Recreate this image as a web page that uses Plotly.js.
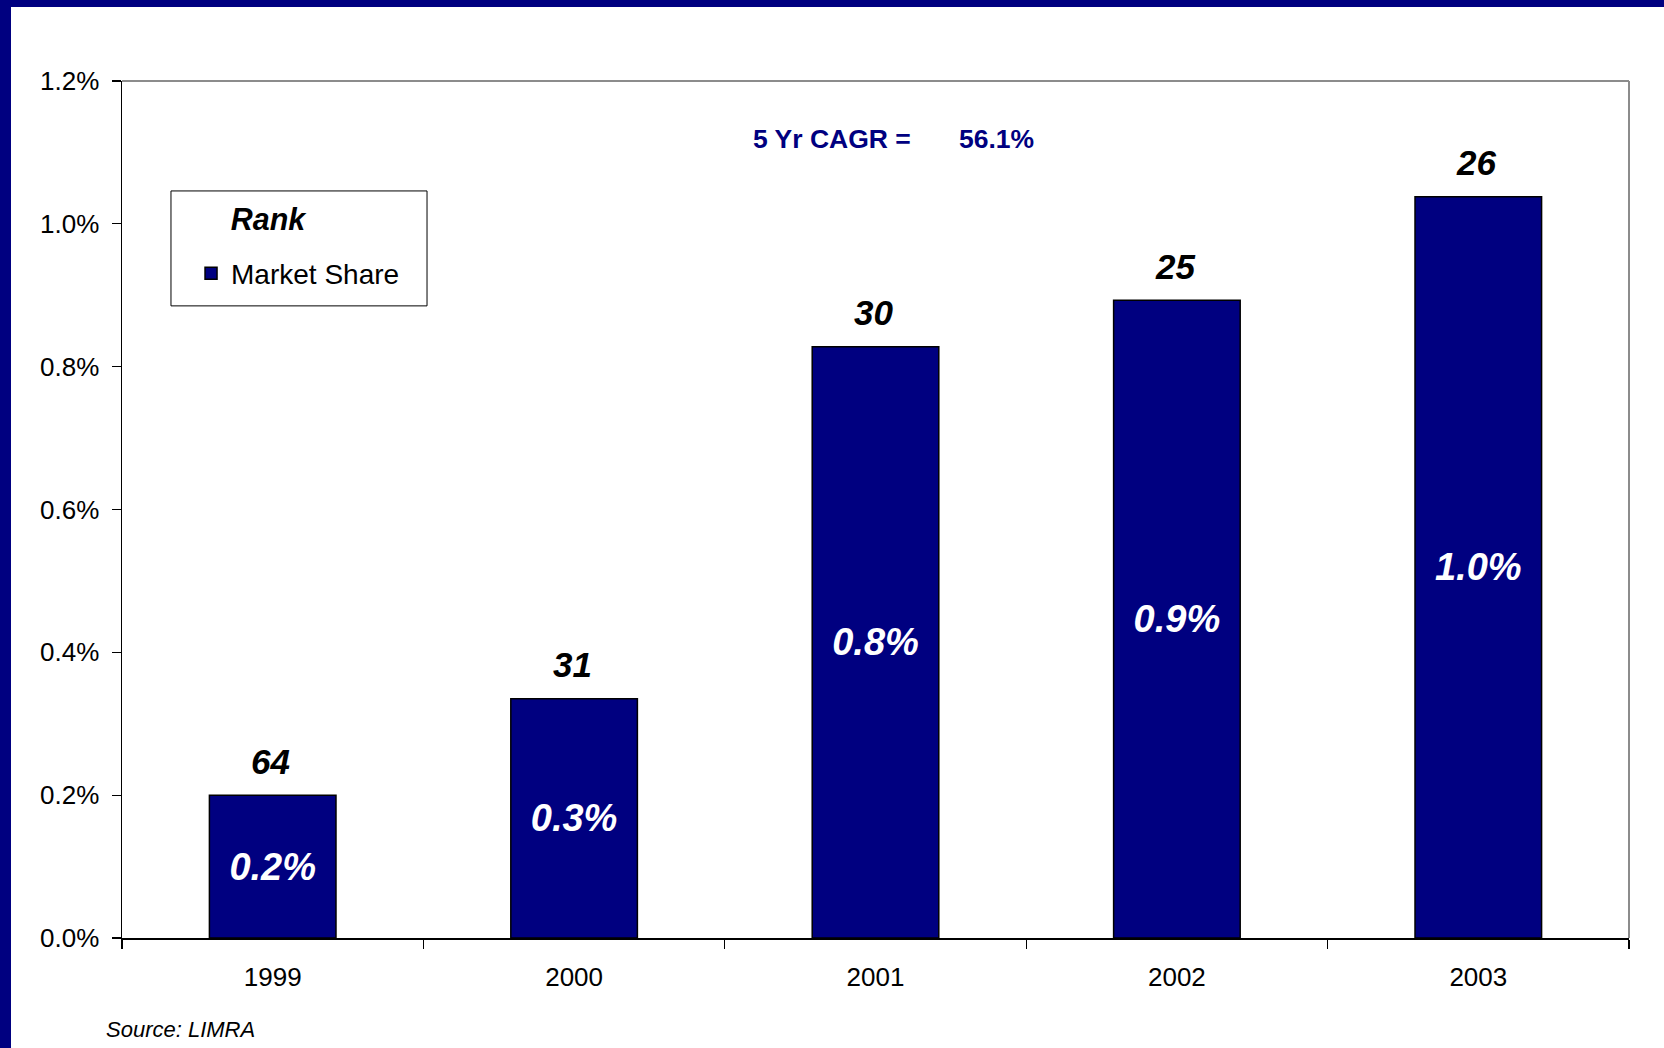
<!DOCTYPE html>
<html>
<head>
<meta charset="utf-8">
<script src="https://cdn.plot.ly/plotly-3.0.1.min.js"></script>
<style>
  html, body { margin: 0; padding: 0; background: #000080; width: 1664px; height: 1048px; overflow: hidden; }
  #chart { position: absolute; left: 11px; top: 7px; width: 1653px; height: 1041px; background: #ffffff; }
</style>
</head>
<body>
<div id="chart"></div>
<script>
// Data (market share in percent)
const years = ['1999', '2000', '2001', '2002', '2003'];
const marketShare = [0.200, 0.335, 0.828, 0.893, 1.038];
const shareLabels = ['0.2%', '0.3%', '0.8%', '0.9%', '1.0%'];
const ranks = ['64', '31', '30', '25', '26'];
const yTickVals = [0.0, 0.2, 0.4, 0.6, 0.8, 1.0, 1.2];
const yTickText = ['0.0%', '0.2%', '0.4%', '0.6%', '0.8%', '1.0%', '1.2%'];
const legendTitle = 'Rank';
const cagrLabel = '5 Yr CAGR =';
const cagrValue = '56.1%';
const sourceNote = 'Source: LIMRA';

const FONT = 'Liberation Sans, Arial, sans-serif';
const NAVY = '#000080';
const NB = '&nbsp;';

const trace = {
  type: 'bar',
  name: 'Market Share',
  x: years,
  y: marketShare,
  marker: { color: NAVY, line: { color: '#000000', width: 1.5 } },
  text: shareLabels,
  textposition: 'inside',
  insidetextanchor: 'middle',
  textangle: 0,
  textfont: { family: FONT, size: 38, color: '#ffffff', weight: 'bold', style: 'italic' },
  hoverinfo: 'skip',
  showlegend: true
};

const rankAnnotations = years.map((yr, i) => ({
  x: i, y: marketShare[i], xref: 'x', yref: 'y',
  text: ranks[i], showarrow: false,
  yanchor: 'middle', yshift: 34, xshift: -2,
  font: { family: FONT, size: 35, color: '#000000', weight: 'bold', style: 'italic' }
}));

const layout = {
  width: 1653, height: 1041,
  paper_bgcolor: '#ffffff', plot_bgcolor: '#ffffff',
  margin: { l: 111, r: 35, t: 74, b: 110 },
  bargap: 0.58,
  showlegend: true,
  font: { family: FONT, color: '#000000' },
  xaxis: {
    type: 'category',
    range: [-0.5, 4.5], autorange: false,
    showgrid: false, zeroline: false,
    showline: true, linecolor: '#000000', linewidth: 1.5,
    ticks: 'outside', tickson: 'boundaries', ticklen: 9, tickcolor: '#000000', tickwidth: 1.2,
    tickangle: 0,
    ticklabelstandoff: 15,
    tickfont: { family: FONT, size: 26, color: '#000000' }
  },
  yaxis: {
    range: [0, 1.2], autorange: false,
    tickmode: 'array', tickvals: yTickVals, ticktext: yTickText,
    showgrid: false, zeroline: false,
    showline: true, linecolor: '#000000', linewidth: 1.5,
    ticks: 'outside', ticklen: 9, tickcolor: '#000000', tickwidth: 1.2,
    ticklabelstandoff: 7,
    tickfont: { family: FONT, size: 26, color: '#000000' }
  },
  legend: {
    x: 0.0332, y: 0.8705, xanchor: 'left', yanchor: 'top',
    bgcolor: 'rgba(0,0,0,0)', borderwidth: 0,
    indentation: 19,
    title: {
      text: '<sup>' + NB.repeat(6) + '\u2009' + legendTitle + '</sup>',
      side: 'top',
      font: { family: FONT, size: 43.5, weight: 'bold', style: 'italic', color: '#000000' }
    },
    font: { family: FONT, size: 28, color: '#000000' }
  },
  shapes: [
    { type: 'line', xref: 'paper', yref: 'paper', x0: 0, x1: 1, y0: 1, y1: 1, line: { color: '#8c8c8c', width: 2 } },
    { type: 'line', xref: 'paper', yref: 'paper', x0: 1, x1: 1, y0: 0, y1: 1, line: { color: '#8c8c8c', width: 2 } },
    // legend frame
    { type: 'rect', xref: 'paper', yref: 'paper', x0: 0.0325, x1: 0.2024, y0: 0.7376, y1: 0.8717,
      layer: 'above', fillcolor: '#ffffff', line: { color: '#000000', width: 1 } }
  ],
  annotations: rankAnnotations.concat([
    { xref: 'paper', yref: 'paper', x: 0.471, y: 0.9324, text: cagrLabel, showarrow: false,
      xanchor: 'center', yanchor: 'middle',
      font: { family: FONT, size: 26.5, color: NAVY, weight: 'bold' } },
    { xref: 'paper', yref: 'paper', x: 0.580, y: 0.9324, text: cagrValue, showarrow: false,
      xanchor: 'center', yanchor: 'middle',
      font: { family: FONT, size: 26.5, color: NAVY, weight: 'bold' } },
    { xref: 'paper', yref: 'paper', x: -0.0117, y: -0.107, text: sourceNote, showarrow: false,
      xanchor: 'left', yanchor: 'middle',
      font: { family: FONT, size: 22, color: '#000000', style: 'italic' } }
  ])
};

Plotly.newPlot('chart', [trace], layout, { displayModeBar: false, staticPlot: true });
</script>
</body>
</html>
